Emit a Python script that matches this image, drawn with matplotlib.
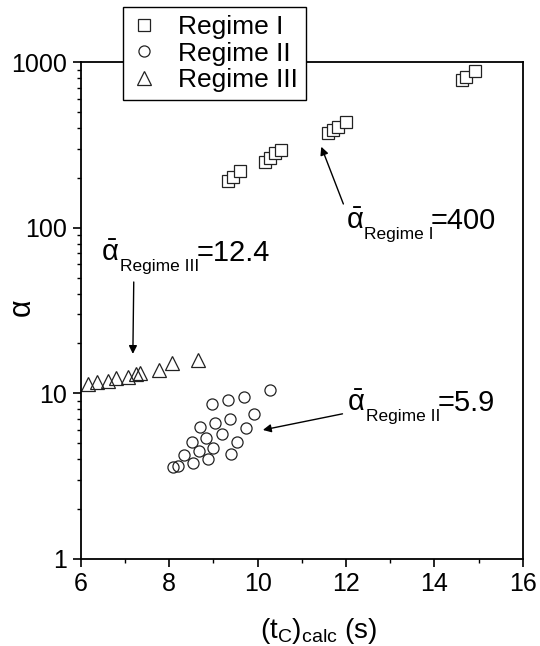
import numpy as np
import matplotlib.pyplot as plt
from matplotlib.ticker import LogLocator, NullFormatter

plt.rcParams['font.family'] = ['Liberation Sans', 'DejaVu Sans']
plt.rcParams['mathtext.fontset'] = 'custom'
plt.rcParams['mathtext.rm'] = 'Liberation Sans'
plt.rcParams['mathtext.it'] = 'Liberation Sans:italic'
plt.rcParams['mathtext.bf'] = 'Liberation Sans:bold'

# Regime I (squares)
t1 = [9.33, 9.44, 9.60, 10.16, 10.27, 10.39, 10.52, 11.59, 11.70, 11.82, 12.00, 14.63, 14.72, 14.92]
a1 = [190, 201, 220, 250, 265, 281, 294, 371, 389, 407, 436, 778, 811, 882]

# Regime II (circles)
t2 = [8.97, 9.33, 9.69, 9.92, 9.03, 9.37, 8.69, 9.73, 8.84, 9.20, 8.51,
      9.54, 8.99, 8.68, 8.33, 9.39, 8.88, 8.54, 8.20, 8.09, 10.27]
a2 = [8.59, 9.12, 9.55, 7.48, 6.60, 6.98, 6.29, 6.15, 5.40, 5.66, 5.11,
      5.07, 4.70, 4.49, 4.25, 4.33, 4.02, 3.82, 3.65, 3.58, 10.5]

# Regime III (triangles)
t3 = [6.17, 6.36, 6.62, 6.81, 7.07, 7.25, 7.34, 7.78, 8.07, 8.65]
a3 = [11.4, 11.7, 11.8, 12.4, 12.5, 13.0, 13.2, 13.8, 15.2, 15.8]

# mean values written next to each group
mean_labels = ['Regime I', 'Regime III', 'Regime II']
mean_values = ['=400', '=12.4', '=5.9']

fig = plt.figure(figsize=(5.4, 6.46), dpi=100)
ax = fig.add_axes([0.1494, 0.1347, 0.819, 0.7693])

ax.plot(t1, a1, 's', ms=8, mfc='white', mec='#222222', mew=0.9, ls='none', label='Regime I')
ax.plot(t2, a2, 'o', ms=8, mfc='none', mec='#222222', mew=0.9, ls='none', label='Regime II')
ax.plot(t3, a3, '^', ms=9.5, mfc='none', mec='#222222', mew=0.9, ls='none', label='Regime III')

ax.set_yscale('log')
ax.set_xlim(6, 16)
ax.set_ylim(1, 1000)
ax.set_xticks([6, 8, 10, 12, 14, 16])
ax.set_xticks([7, 9, 11, 13, 15], minor=True)
ax.set_yticks([1, 10, 100, 1000])
ax.set_yticklabels(['1', '10', '100', '1000'])
ax.yaxis.set_minor_locator(LogLocator(base=10, subs=range(2, 10)))
ax.yaxis.set_minor_formatter(NullFormatter())

for s in ax.spines.values():
    s.set_linewidth(1.3)
ax.tick_params(which='major', direction='out', length=6, width=1.2, labelsize=18)
ax.tick_params(which='minor', direction='out', length=3, width=1.0)

ax.set_xlabel(r'$\mathrm{(t_C)_{calc}\ (s)}$', fontsize=20)
ax.xaxis.set_label_coords(0.537, -0.115)
ax.set_ylabel('α', fontsize=22)
ax.yaxis.set_label_coords(-0.10, 0.507)

arrow = dict(arrowstyle='-|>', color='black', lw=1.0, mutation_scale=12, shrinkA=0, shrinkB=0)
ax.annotate('', xy=(11.44, 308), xytext=(11.94, 139), arrowprops=arrow)
ax.annotate('', xy=(7.18, 17.3), xytext=(7.20, 47), arrowprops=arrow)
ax.annotate('', xy=(10.12, 6.01), xytext=(11.92, 7.52), arrowprops=arrow)

label_x = [11.99, 6.47, 12.03]
label_y = [98, 63, 7.83]
for x, y, sub, val in zip(label_x, label_y, mean_labels, mean_values):
    a = ax.text(x, y, r'$\bar{\mathrm{\alpha}}$', fontsize=21, va='baseline')
    b = ax.annotate(sub, xy=(1, 0), xycoords=a, xytext=(0.5, 6),
                    textcoords='offset points', fontsize=12.5, va='top')
    ax.annotate(val, xy=(1, 0), xycoords=(b, a), xytext=(-2, 0),
                textcoords='offset points', fontsize=21, va='bottom')

leg = ax.legend(loc='upper left', bbox_to_anchor=(122.7 / 540, 1 - 7 / 646),
                bbox_transform=fig.transFigure, borderaxespad=0, fontsize=19,
                numpoints=1, handlelength=1.0, handletextpad=0.8, borderpad=0.3,
                labelspacing=0.1, fancybox=False, framealpha=1, edgecolor='black')
leg.get_frame().set_linewidth(1.0)

fig.savefig('out.png', dpi=100)
